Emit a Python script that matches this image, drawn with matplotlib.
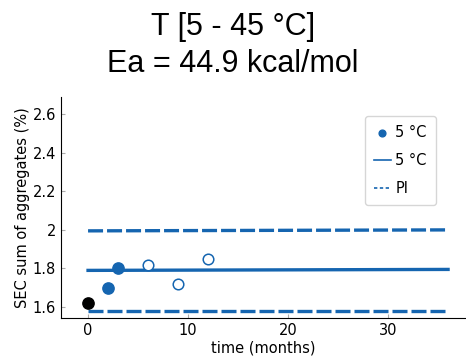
import numpy as np
import matplotlib.pyplot as plt

# data
t_ref = [0]
y_ref = [1.62]
t_used = [2, 3]
y_used = [1.70, 1.80]
t_open = [6, 9, 12]
y_open = [1.82, 1.72, 1.85]
t_fit = [0, 36]
y_fit = [1.79, 1.795]
pi_up = [1.995, 2.0]
pi_lo = [1.58, 1.58]

blue = '#1565b0'

fig = plt.figure(figsize=(4.66, 3.62), dpi=100)
ax = fig.add_axes([0.131, 0.1215, 0.867, 0.611])

fig.text(0.5, 0.903, 'T [5 - 45 °C]', ha='center', va='baseline',
         fontsize=22, family='Liberation Sans')
fig.text(0.5, 0.801, 'Ea = 44.9 kcal/mol', ha='center', va='baseline',
         fontsize=22, family='Liberation Sans')

dash = (0, (4.5, 1.2))
ax.plot(t_fit, y_fit, color=blue, lw=2.4, label='5 °C', zorder=2)
ax.plot(t_fit, pi_up, color=blue, lw=2.4, ls=dash, label='PI', zorder=2)
ax.plot(t_fit, pi_lo, color=blue, lw=2.4, ls=dash, zorder=2)
ax.scatter(t_used, y_used, s=66, color=blue, zorder=3, label='5 °C')
ax.scatter(t_ref, y_ref, s=66, color='black', zorder=3)
ax.scatter(t_open, y_open, s=58, facecolor='white', edgecolor=blue,
           lw=1.1, zorder=3)

ax.set_xlim(-2.7, 37.7)
ax.set_ylim(1.543, 2.69)
ax.set_xticks([0, 10, 20, 30])
ax.set_yticks([1.6, 1.8, 2.0, 2.2, 2.4, 2.6])
ax.set_yticklabels(['1.6', '1.8', '2', '2.2', '2.4', '2.6'])
ax.tick_params(direction='in', length=3, color='#aaaaaa', labelsize=10.5)
for s in ['top', 'right']:
    ax.spines[s].set_visible(False)
ax.set_xlabel('time (months)', fontsize=10.5, labelpad=2)
ax.set_ylabel('SEC sum of aggregates (%)', fontsize=10.5, labelpad=2)

h, l = ax.get_legend_handles_labels()
leg = ax.legend([h[2], h[0], h[1]], [l[2], l[0], l[1]],
                loc='upper right', bbox_to_anchor=(0.945, 0.945),
                fontsize=10.5, handlelength=1.2, handletextpad=0.3,
                markerscale=0.6, frameon=True, fancybox=True, borderpad=0.6,
                labelspacing=0.9)
leg.get_frame().set_edgecolor('#cccccc')
lines = leg.get_lines()
for lh in lines:
    lh.set_linewidth(1.2)
lines[-1].set_linestyle((0, (2, 1.5)))

fig.savefig('out.png', dpi=100)
